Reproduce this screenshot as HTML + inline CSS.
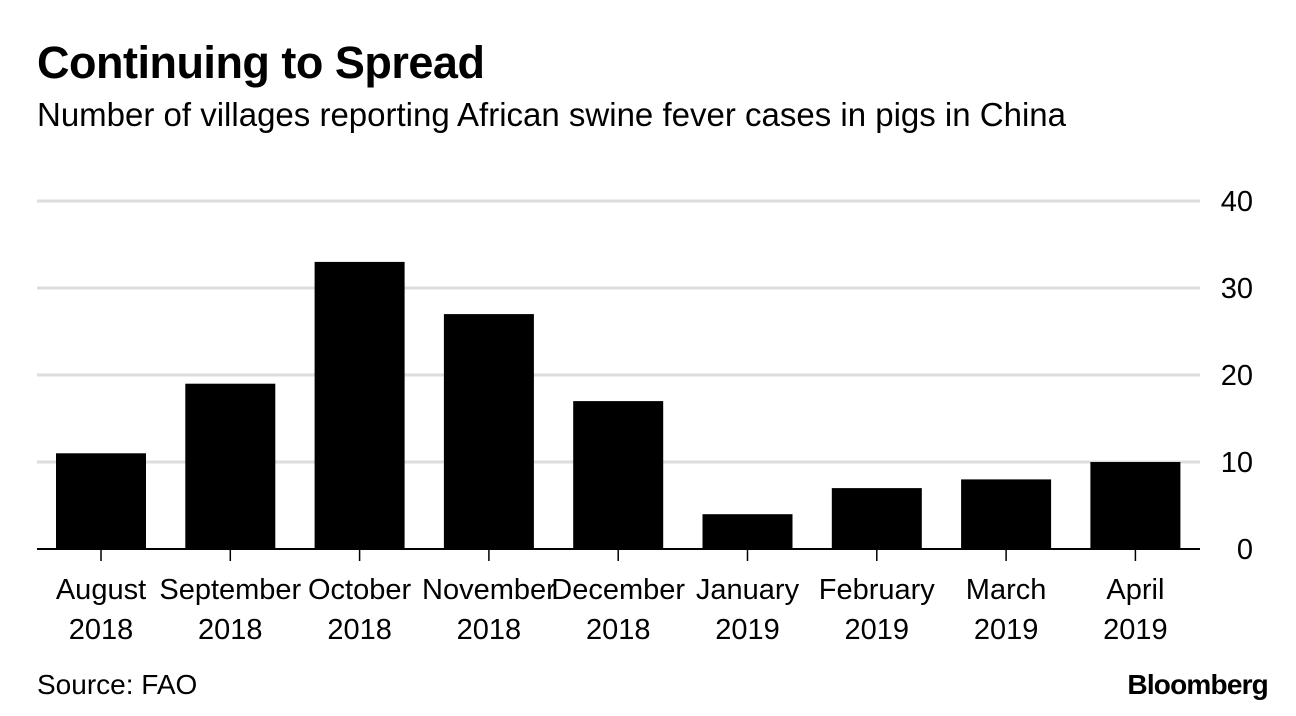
<!DOCTYPE html>
<html><head><meta charset="utf-8"><style>
body{margin:0;width:1296px;height:716px;background:#fff;font-family:"Liberation Sans",sans-serif;overflow:hidden;position:relative}
.t{position:absolute;left:37px;top:37px;font-size:45px;font-weight:bold;color:#000;letter-spacing:-0.5px}
.s{position:absolute;left:37px;top:96px;font-size:33px;color:#000}
.src{position:absolute;left:37px;top:669px;font-size:28px}
.bb{position:absolute;right:28px;top:669px;font-size:28px;font-weight:bold;letter-spacing:-0.8px}
</style></head><body>
<div class="t">Continuing to Spread</div>
<div class="s">Number of villages reporting African swine fever cases in pigs in China</div>
<svg id="c" width="1296" height="716" style="position:absolute;left:0;top:0"></svg>
<div class="src">Source: FAO</div>
<div class="bb">Bloomberg</div>
<script>
const months=["August","September","October","November","December","January","February","March","April"];
const years=["2018","2018","2018","2018","2018","2019","2019","2019","2019"];
const values=[11,19,33,27,17,4,7,8,10];
const ticks=[0,10,20,30,40];
const svg=document.getElementById('c');const NS="http://www.w3.org/2000/svg";
const x0=37,x1=1200,y0=549,yTop=201,firstC=101,pitch=129.3,bw=90;
const y=v=>y0-(v/40)*(y0-yTop);
const xc=i=>firstC+pitch*i;
function mk(t,a){const e=document.createElementNS(NS,t);for(const k in a)e.setAttribute(k,a[k]);svg.appendChild(e);return e;}
ticks.forEach(t=>{
 if(t>0){const g=mk('line',{x1:x0,x2:x1,y1:y(t),y2:y(t),stroke:'#dddddd','stroke-width':3});
 
 }
 const l=mk('text',{x:1253,y:y(t)+10,'text-anchor':'end','font-size':29,fill:'#000','font-family':'Liberation Sans, sans-serif'});
 l.textContent=t;
 
 
});
values.forEach((v,i)=>{
 const r=mk('rect',{x:xc(i)-bw/2,y:y(v),width:bw,height:y0-y(v),fill:'#000'});
 
 
 const tk=mk('line',{x1:xc(i),x2:xc(i),y1:y0,y2:y0+12,stroke:'#000','stroke-width':1.5});
 
 
 const a=mk('text',{x:xc(i),y:599,'text-anchor':'middle','font-size':29,fill:'#000','font-family':'Liberation Sans, sans-serif'});
 a.textContent=months[i];
 
 
 const b=mk('text',{x:xc(i),y:639,'text-anchor':'middle','font-size':29,fill:'#000','font-family':'Liberation Sans, sans-serif'});
 b.textContent=years[i];
 
 
});
const base=mk('line',{x1:x0,x2:x1,y1:y0,y2:y0,stroke:'#000','stroke-width':2});


</script>
</body></html>
